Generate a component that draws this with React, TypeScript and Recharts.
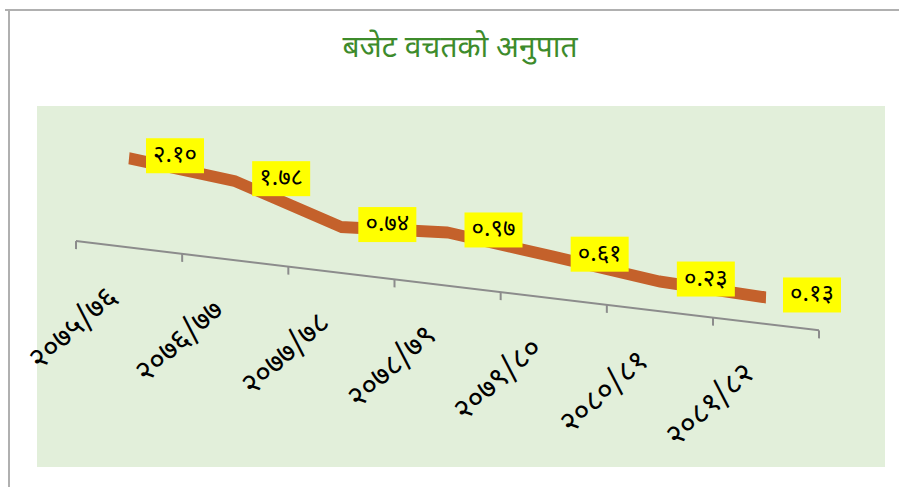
import { LineChart, Line, XAxis, YAxis, LabelList } from "recharts";

const years = ["२०७५/७६", "२०७६/७७", "२०७७/७८", "२०७८/७९", "२०७९/८०", "२०८०/८१", "२०८१/८२"];
const ratios = [2.1, 1.78, 0.74, 0.97, 0.61, 0.23, 0.13];

const data = years.map((year, i) => ({ year, ratio: ratios[i] }));

const DEV_DIGITS = "०१२३४५६७८९";
const toDev = (s: string) => s.replace(/[0-9]/g, (d) => DEV_DIGITS[Number(d)]);

// the excel chart is drawn in 3d perspective, the floor slopes down to the right
const SKEW = 6.843;
const HALF_STEP = 53;
const FONT = "'Noto Sans Devanagari', 'Noto Sans', sans-serif";

const YearTick = (props: any) => {
  const { x, y, payload, index, visibleTicksCount } = props;
  return (
    <g>
      <g transform={`translate(${x},${y})`} stroke="#8c8c8c" strokeWidth={2}>
        <line x1={-HALF_STEP} y1={0} x2={-HALF_STEP} y2={8} />
        {index === visibleTicksCount - 1 && <line x1={HALF_STEP} y1={0} x2={HALF_STEP} y2={8} />}
      </g>
      <g transform={`translate(${x},${y}) skewY(${-SKEW})`}>
        <text
          transform="translate(-10,52) rotate(-42)"
          textAnchor="end"
          fontSize={30}
          fontFamily={FONT}
          fill="#000"
        >
          {payload.value}
        </text>
      </g>
    </g>
  );
};

const RatioLabel = (props: any) => {
  const { x, y, value } = props;
  return (
    <g transform={`translate(${x},${y}) skewY(${-SKEW})`}>
      <rect x={17} y={-20} width={58} height={35} fill="#ffff00" />
      <text
        x={46}
        y={-2}
        dominantBaseline="central"
        textAnchor="middle"
        fontSize={24}
        fontFamily={FONT}
        fill="#000"
      >
        {toDev(Number(value).toFixed(2))}
      </text>
    </g>
  );
};

export default function App() {
  return (
    <div style={{ position: "absolute", left: 0, top: 0, width: 899, height: 487, overflow: "hidden", background: "#fff" }}>
      <div style={{ position: "absolute", left: 5, top: 9, width: 894, height: 0, borderTop: "2px solid #b0b0b0" }} />
      <div style={{ position: "absolute", left: 8, top: 9, width: 0, height: 478, borderLeft: "2px solid #b0b0b0" }} />
      <div style={{ position: "absolute", left: 37, top: 106, width: 848, height: 361, background: "#e2efda" }} />

      <div style={{ position: "absolute", left: 0, top: 0, transform: `skewY(${SKEW}deg)`, transformOrigin: "0 0" }}>
        <LineChart width={899} height={487} data={data} margin={{ top: 130, right: 80, bottom: 225, left: 76 }}>
          <YAxis hide domain={[-0.7, 2.5]} />
          <XAxis
            dataKey="year"
            height={30}
            padding={{ left: HALF_STEP, right: HALF_STEP }}
            axisLine={{ stroke: "#8c8c8c", strokeWidth: 2 }}
            tickLine={false}
            tickSize={0}
            tickMargin={0}
            interval={0}
            tick={<YearTick />}
          />
          <Line
            dataKey="ratio"
            stroke="#c4612b"
            strokeWidth={12}
            strokeLinejoin="miter"
            dot={false}
            isAnimationActive={false}
          >
            <LabelList dataKey="ratio" content={<RatioLabel />} />
          </Line>
        </LineChart>
      </div>

      <div
        style={{
          position: "absolute",
          left: 0,
          top: 28,
          width: 920,
          textAlign: "center",
          fontFamily: FONT,
          fontSize: 30,
          lineHeight: "44px",
          color: "#3d8b2b",
        }}
      >
        बजेट वचतको अनुपात
      </div>
    </div>
  );
}
